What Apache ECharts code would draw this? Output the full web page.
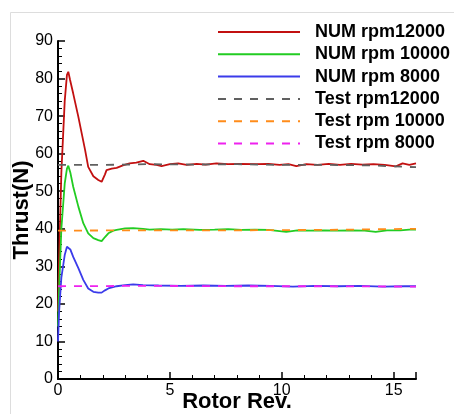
<!DOCTYPE html>
<html><head><meta charset="utf-8">
<script src="https://cdn.jsdelivr.net/npm/echarts@6/dist/echarts.min.js"></script>
<style>html,body{margin:0;padding:0;background:#fff}#c{width:454px;height:414px}</style>
</head><body><div id="c"></div>
<script>
var seriesNames = ['NUM rpm12000','NUM rpm 10000','NUM rpm 8000','Test rpm12000','Test rpm 10000','Test rpm 8000'];
var xTicks = [0,5,10,15];
var yTicks = [0,10,20,30,40,50,60,70,80,90];
var num12000 = [[0,18],[0.05,32],[0.15,55],[0.3,74],[0.4,81],[0.46,81.8],[0.54,79.6],[0.68,76],[0.91,69.8],[1.06,65.4],[1.21,61],[1.35,56.5],[1.58,54],[1.8,53],[1.95,52.5],[2.1,54.5],[2.17,55.6],[2.4,56],[2.62,56.2],[2.9,56.9],[3.2,57.4],[3.5,57.6],[3.81,58.1],[4.1,57.2],[4.4,57],[4.63,56.7],[5.0,57.2],[5.37,57.4],[5.75,57.0],[6.2,57.3],[6.6,57.1],[7.08,57.4],[7.6,57.2],[8.1,57.3],[8.87,57.2],[9.4,57.3],[9.9,57.0],[10.3,57.2],[10.65,56.7],[11.1,57.2],[11.6,57.0],[12.1,57.3],[12.6,57.0],[13.1,57.3],[13.6,57.1],[14.1,57.2],[14.6,57.0],[15.1,56.6],[15.4,57.4],[15.7,57.0],[16,57.4]];
var num10000 = [[0,14],[0.05,24],[0.15,40],[0.3,52],[0.4,56],[0.46,56.8],[0.55,55],[0.68,51.2],[0.91,45.9],[1.13,41.5],[1.35,38.8],[1.58,37.5],[1.8,37],[1.95,36.7],[2.1,37.8],[2.25,38.8],[2.47,39.5],[2.62,39.7],[3.0,40.1],[3.36,40.2],[3.8,40],[4.1,39.8],[4.6,39.9],[5.1,39.8],[5.6,39.9],[6.34,39.7],[7,39.8],[7.6,39.9],[8.2,39.7],[8.8,39.8],[9.4,39.7],[10.2,39.2],[10.7,39.6],[11.3,39.5],[11.9,39.6],[12.5,39.5],[13.1,39.6],[13.7,39.5],[14.2,39.2],[14.7,39.6],[15.3,39.6],[15.7,39.8],[16,39.8]];
var num8000 = [[0,10],[0.05,18],[0.15,27],[0.3,33],[0.4,35.2],[0.46,35.5],[0.55,34.5],[0.68,32.5],[0.91,29.5],[1.13,26.4],[1.35,24.1],[1.58,23.2],[1.8,23],[1.95,23],[2.1,23.6],[2.25,24.1],[2.62,24.7],[3.0,25],[3.36,25.2],[3.8,25],[4.5,24.9],[5.5,24.8],[6.5,24.9],[7.5,24.8],[8.5,24.9],[9.5,24.8],[10.5,24.6],[11.5,24.8],[12.5,24.7],[13.5,24.8],[14.5,24.6],[15.5,24.7],[16,24.7]];
var test12000 = [[0,57],[2,57],[4,57.2],[6,57.1],[8,57.2],[10,57],[12,57],[14,56.9],[15,56.6],[16,56.4]];
var test10000 = [[0,39.5],[4,39.6],[8,39.6],[12,39.7],[16,40]];
var test8000 = [[0,24.7],[4,24.8],[8,24.7],[12,24.7],[16,24.6]];

var colors = ['#c21010','#22cc22','#3b3bea','#606060','#ff8c1a','#ee22ee'];
var datas = [num12000,num10000,num8000,test12000,test10000,test8000];
var series = datas.map(function(d,i){
  var dashed = i >= 3;
  return {
    name: seriesNames[i], type:'line', data:d, symbol:'none', smooth:false,
    lineStyle:{color:colors[i], width:1.8, type: dashed?[8,8]:'solid'},
    itemStyle:{color:colors[i]}, z: dashed?3:2
  };
});
var chart = echarts.init(document.getElementById('c'), null, {renderer:'canvas'});
var font = '"Liberation Sans", Arial, sans-serif';
chart.setOption({
  animation:false,
  backgroundColor:'#fff',
  graphic:[{type:'rect', shape:{x:10.5,y:12.5,width:460,height:420}, style:{fill:'none', stroke:'#dddddd', lineWidth:1}, silent:true, z:-10}],
  grid:{left:58, right:38, top:41, bottom:35, containLabel:false, outerBoundsMode:'none'},
  legend:{
    orient:'vertical', left:217, top:23, padding:0, itemWidth:82, itemHeight:16, itemGap:4.3,
    data: seriesNames.map(function(n){return {name:n};}),
    itemStyle:{opacity:0},
    textStyle:{fontFamily:font, fontWeight:'bold', fontSize:18, color:'#000', lineHeight:16, padding:[0,0,0,10]},
    selectedMode:false
  },
  xAxis:{
    type:'value', min:0, max:16, interval:5,
    name:'Rotor Rev.', nameLocation:'middle', nameGap:23, nameMoveOverlap:false,
    nameTextStyle:{fontFamily:font, fontWeight:'bold', fontSize:22, color:'#000', verticalAlign:'middle'},
    axisLine:{show:true, onZero:false, lineStyle:{color:'#000', width:2}},
    axisTick:{show:true, inside:true, length:7, lineStyle:{color:'#000', width:1.5}},
    minorTick:{show:true, splitNumber:5, length:4, lineStyle:{color:'#000', width:1}},
    axisLabel:{fontFamily:font, fontSize:16, color:'#000', margin:4, showMaxLabel:false,
      formatter:function(v){return xTicks.indexOf(v)>=0 ? String(v) : '';}},
    splitLine:{show:false}
  },
  yAxis:{
    type:'value', min:0, max:90, interval:10,
    name:'Thrust(N)', nameLocation:'middle', nameGap:36, nameMoveOverlap:false,
    nameTextStyle:{fontFamily:font, fontWeight:'bold', fontSize:22, color:'#000', verticalAlign:'middle'},
    axisLine:{show:true, lineStyle:{color:'#000', width:2}},
    axisTick:{show:true, inside:true, length:7, lineStyle:{color:'#000', width:1.5}},
    minorTick:{show:true, splitNumber:5, length:4, lineStyle:{color:'#000', width:1}},
    axisLabel:{fontFamily:font, fontSize:16, color:'#000', margin:5,
      formatter:function(v){return yTicks.indexOf(v)>=0 ? String(v) : '';}},
    splitLine:{show:false}
  },
  series: series
});
</script></body></html>
